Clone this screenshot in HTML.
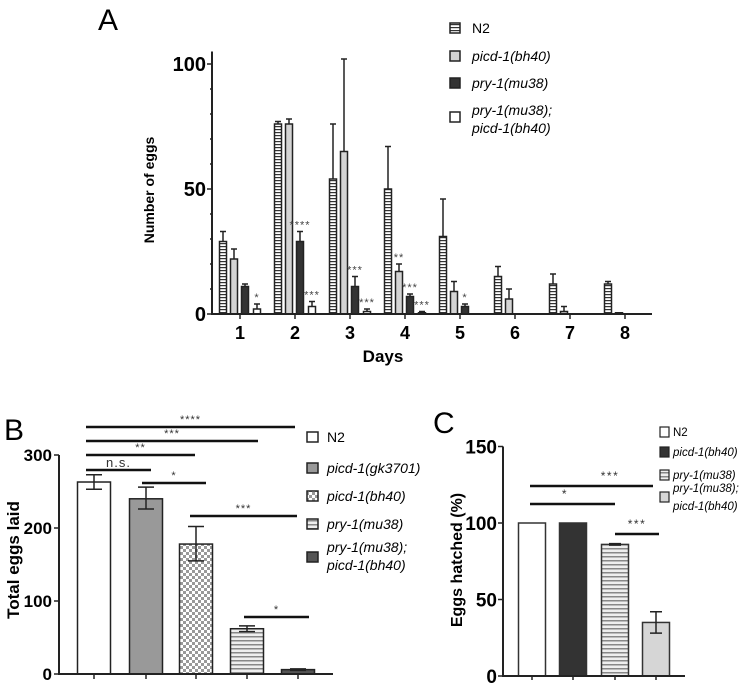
<!DOCTYPE html>
<html><head><meta charset="utf-8"><style>
body{margin:0;background:#fff;}
svg{display:block;font-family:"Liberation Sans",Arial,sans-serif;}
</style></head><body>
<svg id="fig" width="749" height="688" viewBox="0 0 749 688">
<defs>
<pattern id="hstripe" width="4" height="3" patternUnits="userSpaceOnUse"><rect width="4" height="3" fill="#fff"/><rect width="4" height="1.2" fill="#333"/></pattern>
<pattern id="hstripeg" width="4" height="4" patternUnits="userSpaceOnUse"><rect width="4" height="4" fill="#eee"/><rect width="4" height="1.5" fill="#888"/></pattern>
<pattern id="checker" width="6" height="6" patternUnits="userSpaceOnUse"><rect width="6" height="6" fill="#fff"/><rect width="3" height="3" fill="#999"/><rect x="3" y="3" width="3" height="3" fill="#999"/></pattern>
</defs>
<g id="pa"></g>
<g id="pb"></g>
<g id="pc"></g>
</svg>
<script>
// Panel A data
const daysA=['1','2','3','4','5','6','7','8'];
const seriesA_N2=[29,76,54,50,31,15,12,12];
const errA_N2=[33,77,76,67,46,19,16,13];
const seriesA_picd=[22,76,65,17,9,6,1,0.5];
const errA_picd=[26,78,102,20,13,10,3,0.5];
const seriesA_pry=[11,29,11,7,3,0,0,0];
const errA_pry=[12,33,15,8,4,0,0,0];
const seriesA_dbl=[2,3,1,0.5,0,0,0,0];
const errA_dbl=[4,5,2,1,0,0,0,0];
const ticksA=[0,50,100];
// Panel B data
const catsB=['N2','picd-1(gk3701)','picd-1(bh40)','pry-1(mu38)','pry-1(mu38); picd-1(bh40)'];
const valsB=[263,240,178,62,6];
const lowB=[253,226,155,58,5];
const highB=[273,256,202,66,7];
const ticksB=[0,100,200,300];
// Panel C data
const catsC=['N2','picd-1(bh40)','pry-1(mu38)','pry-1(mu38); picd-1(bh40)'];
const valsC=[100,100,86,35];
const lowC=[100,100,85.5,28];
const highC=[100,100,86.5,42];
const ticksC=[0,50,100,150];

const NS='http://www.w3.org/2000/svg';
function mk(p,tag,at,txt){const e=document.createElementNS(NS,tag);for(const k in at)e.setAttribute(k,at[k]);if(txt!==undefined)e.textContent=txt;p.appendChild(e);return e;}

// ---------- Panel A ----------
(function(){
const g=document.getElementById('pa');
const y0=314, sc=2.5, xa=212, xd0=240, dx=55;
const ya=v=>y0-v*sc, xA=i=>xd0+i*dx;
let t=mk(g,'text',{x:98,y:30,'font-size':30},'A');


const fills=['url(#hstripe)','#d4d4d4','#333','#fff'];
const S=[seriesA_N2,seriesA_picd,seriesA_pry,seriesA_dbl], E=[errA_N2,errA_picd,errA_pry,errA_dbl];
const offs=[-17,-6,5,17];
for(let s=0;s<4;s++)for(let i=0;i<daysA.length;i++){
 const v=S[s][i], x=xA(i)+offs[s];
 if(E[s][i]>v){const l=mk(g,'path',{d:`M${x} ${ya(v)}V${ya(E[s][i])}M${x-3} ${ya(E[s][i])}h6`,stroke:'#222','stroke-width':1.5,fill:'none'});
 
 }
 const r=mk(g,'rect',{x:x-3.5,y:ya(v),width:7,height:Math.max(0,v*sc),fill:fills[s],stroke:'#222','stroke-width':1.5});
 
 
}
mk(g,'path',{d:`M${xa} ${ya(105)}V${y0}H652`,stroke:'#222','stroke-width':2,fill:'none'});
for(let v=0;v<=100;v+=10)mk(g,'line',{x1:xa-(v%50?2:5),x2:xa,y1:ya(v),y2:ya(v),stroke:'#222','stroke-width':1.5});
ticksA.forEach(v=>{const e=mk(g,'text',{x:xa-6,y:ya(v)+7,'font-size':20,'font-weight':'bold','text-anchor':'end'},v);
 
 });
daysA.forEach((d,i)=>{mk(g,'line',{x1:xA(i),x2:xA(i),y1:y0,y2:y0+5,stroke:'#222','stroke-width':1.5});
 const e=mk(g,'text',{x:xA(i),y:y0+25,'font-size':18,'font-weight':'bold','text-anchor':'middle'},d);
 
 });
t=mk(g,'text',{x:383,y:362,'font-size':17,'font-weight':'bold','text-anchor':'middle'},'Days');


t=mk(g,'text',{x:0,y:0,'font-size':14,'font-weight':'bold','text-anchor':'middle',transform:'translate(154,190) rotate(-90)'},'Number of eggs');


const stars=[[0,3,'*'],[1,2,'****'],[1,3,'***'],[2,2,'***'],[2,3,'***'],[3,1,'**'],[3,2,'***'],[3,3,'***'],[4,2,'*']];
stars.forEach(([i,s,txt])=>{const e=mk(g,'text',{x:xA(i)+offs[s],y:ya(Math.max(E[s][i],S[s][i]))-3,'font-size':11,fill:'#444','text-anchor':'middle','letter-spacing':1},txt);
 
 });
const leg=[['N2',28,0,''],['picd-1(bh40)',56,1,'italic'],['pry-1(mu38)',83,2,'italic'],['pry-1(mu38);',110,3,'italic']];
leg.forEach(([n,y,s,st])=>{const r=mk(g,'rect',{x:450,y:(s==3?117:y)-5,width:10,height:10,fill:fills[s],stroke:'#222','stroke-width':1.5});
 
 
 const e=mk(g,'text',{x:472,y:y+5,'font-size':14,'font-style':st},n);
 
 });
t=mk(g,'text',{x:472,y:133,'font-size':14,'font-style':'italic'},'picd-1(bh40)');


})();

// ---------- Panel B ----------
(function(){
const g=document.getElementById('pb');
const y0=674, sc=0.73, xa=59, cx=[94,146,196,247,298];
const yb=v=>y0-v*sc;
let t=mk(g,'text',{x:4,y:440,'font-size':30},'B');


const fills=['#fff','#999','url(#checker)','url(#hstripeg)','#555'];
valsB.forEach((v,i)=>{const r=mk(g,'rect',{x:cx[i]-16.5,y:yb(v),width:33,height:v*sc,fill:fills[i],stroke:'#222','stroke-width':1.5});
 
 
 const e=mk(g,'path',{d:`M${cx[i]} ${yb(lowB[i])}V${yb(highB[i])}M${cx[i]-8} ${yb(lowB[i])}h16M${cx[i]-8} ${yb(highB[i])}h16`,stroke:'#222','stroke-width':1.5,fill:'none'});
 
 
 mk(g,'line',{x1:cx[i],x2:cx[i],y1:y0,y2:y0+5,stroke:'#222','stroke-width':1.5});});
mk(g,'path',{d:`M${xa} ${yb(300)}V${y0}H333`,stroke:'#222','stroke-width':2,fill:'none'});
ticksB.forEach(v=>{mk(g,'line',{x1:xa-5,x2:xa,y1:yb(v),y2:yb(v),stroke:'#222','stroke-width':1.5});
 const e=mk(g,'text',{x:xa-7,y:yb(v)+6,'font-size':17,'font-weight':'bold','text-anchor':'end'},v);
 
 });
t=mk(g,'text',{x:0,y:0,'font-size':17,'font-weight':'bold','text-anchor':'middle',transform:'translate(19,560) rotate(-90)'},'Total eggs laid');


const sig=[[427,86,295,'****'],[441,86,258,'***'],[455,86,195,'**'],[470,86,151,'n.s.'],[483,142,206,'*'],[516,190,297,'***'],[617,244,309,'*']];
sig.forEach(([y,a,b,s])=>{const l=mk(g,'line',{x1:a,x2:b,y1:y,y2:y,stroke:'#111','stroke-width':2.5});
 
 
 const e=mk(g,'text',{x:(a+b)/2,y:s=='n.s.'?y-3:y-4,'font-size':s=='n.s.'?13:11,fill:'#333','text-anchor':'middle','letter-spacing':1},s);
 
 });
const ly=[437,468,496,524,557];
catsB.forEach((n,i)=>{const r=mk(g,'rect',{x:307,y:ly[i]-5,width:11,height:10,fill:fills[i],stroke:'#222','stroke-width':1.5});
 
 
 if(i<4){const e=mk(g,'text',{x:327,y:ly[i]+5,'font-size':14,'font-style':i?'italic':'normal'},n);
 
 }});
t=mk(g,'text',{x:327,y:552,'font-size':14,'font-style':'italic'},'pry-1(mu38);');


t=mk(g,'text',{x:327,y:570,'font-size':14,'font-style':'italic'},'picd-1(bh40)');


})();

// ---------- Panel C ----------
(function(){
const g=document.getElementById('pc');
const y0=676, sc=1.53, xa=503, cx=[532,573,615,656];
const yc=v=>y0-v*sc;
let t=mk(g,'text',{x:433,y:433,'font-size':30},'C');


const fills=['#fff','#333','url(#hstripeg)','#d6d6d6'];
valsC.forEach((v,i)=>{const r=mk(g,'rect',{x:cx[i]-13.5,y:yc(v),width:27,height:v*sc,fill:fills[i],stroke:'#333','stroke-width':1.5});
 
 
 if(highC[i]>lowC[i]){const e=mk(g,'path',{d:`M${cx[i]} ${yc(lowC[i])}V${yc(highC[i])}M${cx[i]-6} ${yc(lowC[i])}h12M${cx[i]-6} ${yc(highC[i])}h12`,stroke:'#222','stroke-width':1.5,fill:'none'});
 
 }
 mk(g,'line',{x1:cx[i],x2:cx[i],y1:y0,y2:y0+4,stroke:'#222','stroke-width':1.5});});
mk(g,'path',{d:`M${xa} ${yc(150)}V${y0}H685`,stroke:'#222','stroke-width':2,fill:'none'});
ticksC.forEach(v=>{mk(g,'line',{x1:xa-5,x2:xa,y1:yc(v),y2:yc(v),stroke:'#222','stroke-width':1.5});
 const e=mk(g,'text',{x:xa-6,y:yc(v)+7,'font-size':19,'font-weight':'bold','text-anchor':'end'},v);
 
 });
t=mk(g,'text',{x:0,y:0,'font-size':16,'font-weight':'bold','text-anchor':'middle',transform:'translate(462,560) rotate(-90)'},'Eggs hatched (%)');


const sig=[[486,530,653,'***'],[504,530,615,'*'],[534,615,659,'***']];
sig.forEach(([y,a,b,s])=>{const l=mk(g,'line',{x1:a,x2:b,y1:y,y2:y,stroke:'#111','stroke-width':2.5});
 
 
 const e=mk(g,'text',{x:s=='***'&&a==530?610:(s=='*'?565:(a+b)/2),y:y-6,'font-size':12,fill:'#333','text-anchor':'middle','letter-spacing':1.5},s);
 
 });
const ly=[432,452,475,497];
catsC.forEach((n,i)=>{const r=mk(g,'rect',{x:660,y:ly[i]-5,width:9,height:10,fill:fills[i],stroke:'#222','stroke-width':1.2});
 
 
 if(i<3){const e=mk(g,'text',{x:673,y:ly[i]+4,'font-size':11.5,'font-style':i?'italic':'normal'},n);
 
 }});
t=mk(g,'text',{x:673,y:492,'font-size':11.5,'font-style':'italic'},'pry-1(mu38);');


t=mk(g,'text',{x:673,y:510,'font-size':11.5,'font-style':'italic'},'picd-1(bh40)');


})();
</script>
</body></html>
